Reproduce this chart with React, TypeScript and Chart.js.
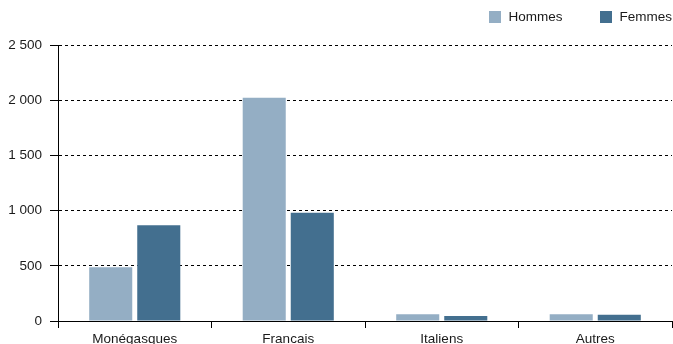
import React, { useEffect, useRef } from "react";
import { Chart, registerables } from "chart.js";

Chart.register(...registerables);

const categories = ["Monégasques", "Francais", "Italiens", "Autres"];
const hommes = [486, 2022, 61, 61];
const femmes = [868, 980, 45, 57];
const seriesNames = ["Hommes", "Femmes"];
const seriesColors = ["#94aec4", "#436f8f"];
const yMin = 0;
const yMax = 2500;
const yStep = 500;

const FONT = "'Liberation Sans', Arial, sans-serif";
const TEXT = "#1a1a1a";

function fmt(v: number): string {
  return String(v).replace(/\B(?=(\d{3})+(?!\d))/g, " ");
}

export default function App() {
  const ref = useRef<HTMLCanvasElement | null>(null);

  useEffect(() => {
    if (!ref.current) return;
    const chart = new Chart(ref.current, {
      type: "bar",
      data: {
        labels: categories,
        datasets: [
          { label: seriesNames[0], data: hommes, backgroundColor: seriesColors[0], borderWidth: 0 },
          { label: seriesNames[1], data: femmes, backgroundColor: seriesColors[1], borderWidth: 0 },
        ],
      },
      options: {
        responsive: false,
        maintainAspectRatio: false,
        animation: false,
        devicePixelRatio: 1,
        layout: { padding: { top: 45, right: 1, left: 0, bottom: 0 } },
        datasets: {
          bar: { categoryPercentage: 0.626, barPercentage: 0.896 },
        },
        plugins: {
          legend: { display: false },
          title: { display: false },
          tooltip: { enabled: false },
        },
        scales: {
          x: {
            offset: true,
            grid: {
              display: true,
              drawOnChartArea: false,
              drawTicks: true,
              tickLength: 7,
              color: "#000",
              offset: true,
            },
            border: { display: true, color: "#000", width: 1 },
            ticks: {
              color: TEXT,
              font: { family: FONT, size: 13.5 },
              padding: 3,
              maxRotation: 0,
            },
            afterFit: (s: any) => {
              s.height = 23;
            },
          },
          y: {
            min: yMin,
            max: yMax,
            ticks: {
              stepSize: yStep,
              color: TEXT,
              font: { family: FONT, size: 13.5 },
              padding: 8,
              callback: (v: any) => fmt(Number(v)),
            },
            grid: {
              color: "#000",
              drawTicks: true,
              tickLength: 8,
              tickBorderDash: [],
            },
            border: { display: true, color: "#000", width: 1, dash: [3, 3] },
            afterFit: (s: any) => {
              s.width = 58;
            },
          },
        },
      },
    });
    return () => chart.destroy();
  }, []);

  return (
    <div style={{ position: "fixed", left: 0, top: 0, width: 673, height: 344, background: "#fff" }}>
      <canvas ref={ref} width={673} height={344} style={{ display: "block", width: 673, height: 344 }} />
      <div
        style={{
          position: "absolute",
          right: 1,
          top: 8,
          display: "flex",
          alignItems: "center",
          fontFamily: FONT,
          fontSize: 13.5,
          color: TEXT,
          lineHeight: "18px",
        }}
      >
        {seriesNames.map((n, i) => (
          <div key={n} style={{ display: "flex", alignItems: "center", marginLeft: i === 0 ? 0 : 38 }}>
            <span style={{ width: 12, height: 12, background: seriesColors[i], display: "inline-block", marginRight: 7 }} />
            <span>{n}</span>
          </div>
        ))}
      </div>
    </div>
  );
}
